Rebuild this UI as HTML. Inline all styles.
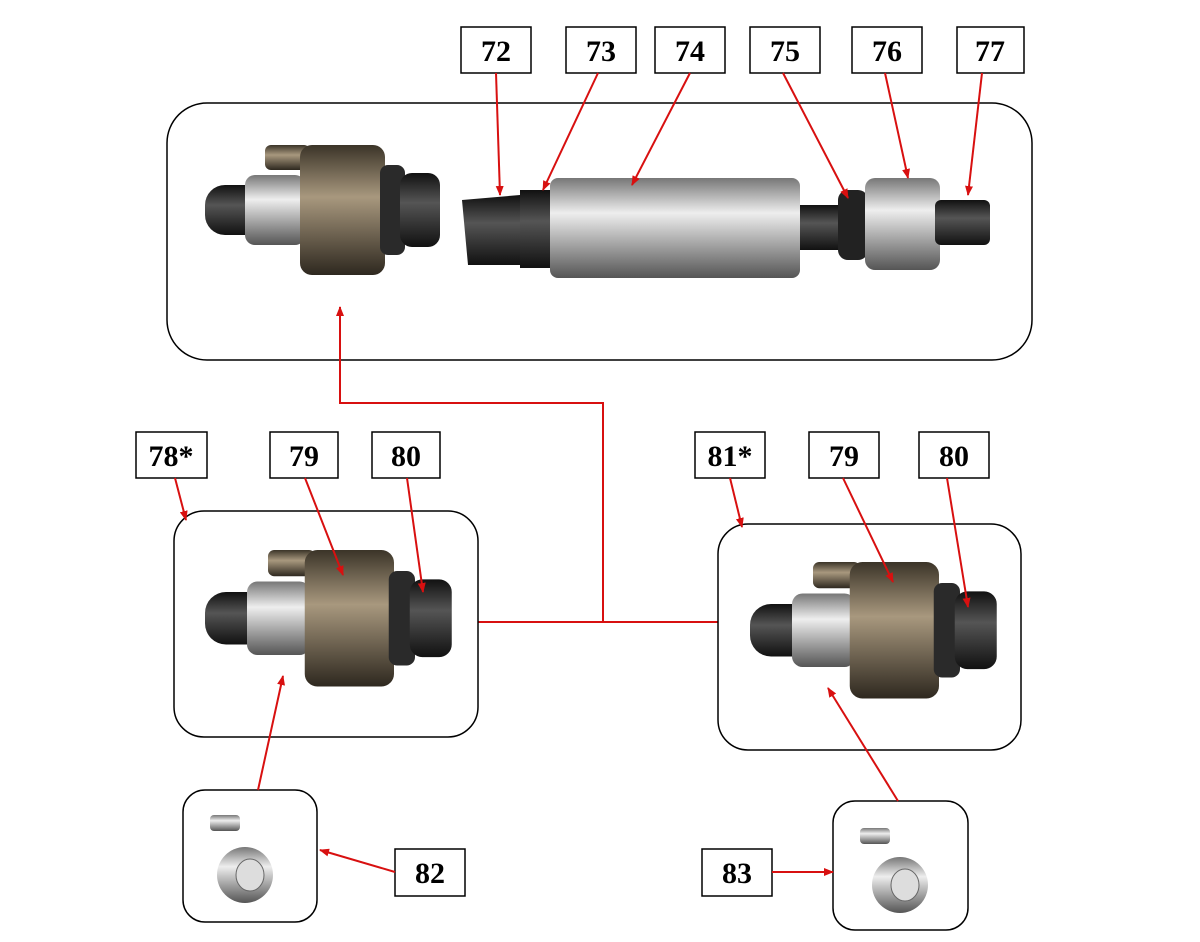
<!DOCTYPE html>
<html><head><meta charset="utf-8"><style>
body{margin:0;background:#fff}
svg{display:block}
.lb{fill:#fff;stroke:#000;stroke-width:1.5}
.t{font-family:"Liberation Serif",serif;font-weight:bold;font-size:30px;text-anchor:middle}
.r{stroke:#d81010;stroke-width:2;fill:none}
.bx{fill:none;stroke:#000;stroke-width:1.5}
</style></head><body>
<svg width="1200" height="942" viewBox="0 0 1200 942">
<defs>
<marker id="a" markerWidth="10" markerHeight="10" refX="9" refY="5" orient="auto" markerUnits="userSpaceOnUse"><path d="M0,1 L10,5 L0,9 z" fill="#d81010"/></marker>
<linearGradient id="m" x1="0" y1="0" x2="0" y2="1"><stop offset="0" stop-color="#777"/><stop offset=".35" stop-color="#eee"/><stop offset="1" stop-color="#555"/></linearGradient>
<linearGradient id="k" x1="0" y1="0" x2="0" y2="1"><stop offset="0" stop-color="#3b3428"/><stop offset=".4" stop-color="#a8987e"/><stop offset="1" stop-color="#2e281f"/></linearGradient>
<linearGradient id="b" x1="0" y1="0" x2="0" y2="1"><stop offset="0" stop-color="#111"/><stop offset=".4" stop-color="#555"/><stop offset="1" stop-color="#111"/></linearGradient>
<g id="conn">
<rect x="60" y="0" width="45" height="25" rx="6" fill="url(#k)"/>
<rect x="0" y="40" width="60" height="50" rx="20" fill="url(#b)"/>
<rect x="40" y="30" width="60" height="70" rx="10" fill="url(#m)"/>
<rect x="95" y="0" width="85" height="130" rx="12" fill="url(#k)"/>
<rect x="175" y="20" width="25" height="90" rx="8" fill="#2a2a2a"/>
<rect x="195" y="28" width="40" height="74" rx="12" fill="url(#b)"/>
</g>
</defs>

<!-- top box -->
<rect class="bx" x="167" y="103" width="865" height="257" rx="40"/>
<use href="#conn" transform="translate(205,145)"/>
<path d="M462,200 L520,195 L520,265 L468,265 z" fill="url(#b)"/>
<rect x="520" y="190" width="40" height="78" fill="url(#b)"/>
<rect x="550" y="178" width="250" height="100" rx="8" fill="url(#m)"/>
<rect x="800" y="205" width="40" height="45" fill="url(#b)"/>
<rect x="838" y="190" width="30" height="70" rx="10" fill="#222"/>
<rect x="865" y="178" width="75" height="92" rx="10" fill="url(#m)"/>
<rect x="935" y="200" width="55" height="45" rx="6" fill="url(#b)"/>

<!-- labels top -->
<g>
<rect class="lb" x="461" y="27" width="70" height="46"/><text class="t" x="496" y="61">72</text>
<rect class="lb" x="566" y="27" width="70" height="46"/><text class="t" x="601" y="61">73</text>
<rect class="lb" x="655" y="27" width="70" height="46"/><text class="t" x="690" y="61">74</text>
<rect class="lb" x="750" y="27" width="70" height="46"/><text class="t" x="785" y="61">75</text>
<rect class="lb" x="852" y="27" width="70" height="46"/><text class="t" x="887" y="61">76</text>
<rect class="lb" x="957" y="27" width="67" height="46"/><text class="t" x="990" y="61">77</text>
</g>
<path class="r" d="M496,73 L500,195" marker-end="url(#a)"/>
<path class="r" d="M598,73 L543,190" marker-end="url(#a)"/>
<path class="r" d="M690,73 L632,185" marker-end="url(#a)"/>
<path class="r" d="M783,73 L848,198" marker-end="url(#a)"/>
<path class="r" d="M885,73 L908,178" marker-end="url(#a)"/>
<path class="r" d="M982,73 L968,195" marker-end="url(#a)"/>

<!-- connecting lines -->
<path class="r" d="M603,622 L603,403 L340,403 L340,307" marker-end="url(#a)"/>
<path class="r" d="M478,622 L718,622"/>

<!-- left box -->
<rect class="bx" x="174" y="511" width="304" height="226" rx="30"/>
<use href="#conn" transform="translate(205,550) scale(1.05)"/>
<!-- right box -->
<rect class="bx" x="718" y="524" width="303" height="226" rx="30"/>
<use href="#conn" transform="translate(750,562) scale(1.05)"/>

<rect class="lb" x="136" y="432" width="71" height="46"/><text class="t" x="171" y="466">78*</text>
<rect class="lb" x="270" y="432" width="68" height="46"/><text class="t" x="304" y="466">79</text>
<rect class="lb" x="372" y="432" width="68" height="46"/><text class="t" x="406" y="466">80</text>
<rect class="lb" x="695" y="432" width="70" height="46"/><text class="t" x="730" y="466">81*</text>
<rect class="lb" x="809" y="432" width="70" height="46"/><text class="t" x="844" y="466">79</text>
<rect class="lb" x="919" y="432" width="70" height="46"/><text class="t" x="954" y="466">80</text>
<path class="r" d="M175,478 L186,520" marker-end="url(#a)"/>
<path class="r" d="M305,478 L343,575" marker-end="url(#a)"/>
<path class="r" d="M407,478 L423,592" marker-end="url(#a)"/>
<path class="r" d="M730,478 L742,527" marker-end="url(#a)"/>
<path class="r" d="M843,478 L893,582" marker-end="url(#a)"/>
<path class="r" d="M947,478 L968,607" marker-end="url(#a)"/>

<!-- small boxes -->
<rect class="bx" x="183" y="790" width="134" height="132" rx="22"/>
<rect x="210" y="815" width="30" height="16" rx="4" fill="url(#m)"/>
<ellipse cx="245" cy="875" rx="28" ry="28" fill="url(#m)"/><ellipse cx="250" cy="875" rx="14" ry="16" fill="#ddd" stroke="#666"/>
<rect class="bx" x="833" y="801" width="135" height="129" rx="22"/>
<rect x="860" y="828" width="30" height="16" rx="4" fill="url(#m)"/>
<ellipse cx="900" cy="885" rx="28" ry="28" fill="url(#m)"/><ellipse cx="905" cy="885" rx="14" ry="16" fill="#ddd" stroke="#666"/>

<rect class="lb" x="395" y="849" width="70" height="47"/><text class="t" x="430" y="883">82</text>
<rect class="lb" x="702" y="849" width="70" height="47"/><text class="t" x="737" y="883">83</text>
<path class="r" d="M395,872 L320,850" marker-end="url(#a)"/>
<path class="r" d="M772,872 L833,872" marker-end="url(#a)"/>
<path class="r" d="M258,790 L283,676" marker-end="url(#a)"/>
<path class="r" d="M898,801 L828,688" marker-end="url(#a)"/>
</svg>
</body></html>
